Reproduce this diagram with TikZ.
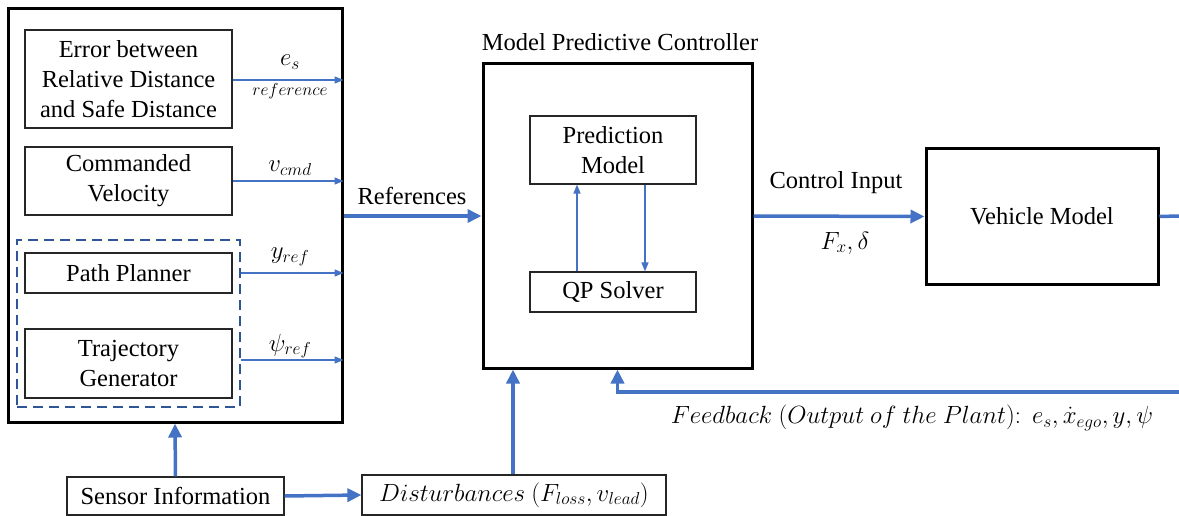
\documentclass[tikz,border=0pt]{standalone}
\usepackage{fontspec}
\setmainfont{Liberation Serif}
\usetikzlibrary{arrows.meta,calc}
\definecolor{linkblue}{HTML}{4472C4}
\definecolor{groupblue}{HTML}{2F5597}
\begin{document}
\begin{tikzpicture}[x=1pt,y=-1pt,
  every node/.style={font=\fontsize{24.5}{30}\selectfont, inner sep=0pt},
  block/.style={draw=black!85, line width=1.2pt, fill=white, align=center},
  bigblock/.style={draw=black, line width=3pt, align=center},
  group/.style={draw=groupblue, line width=2.6pt, dash pattern=on 10pt off 6pt},
  thinarrow/.style={draw=linkblue, line width=1.3pt, -{Triangle[length=9pt,width=7pt]}},
  thickarrow/.style={draw=linkblue, line width=3.5pt, -{Triangle[length=14pt,width=13pt]}},
  thickline/.style={draw=linkblue, line width=3.5pt},
  lbl/.style={font=\fontsize{24.5}{28}\selectfont},
  smalllbl/.style={font=\fontsize{18}{20}\selectfont}
]
\useasboundingbox (0,0) rectangle (1179,516);

% reference generation
\node[bigblock, minimum width=334pt, minimum height=413pt] (refs) at (175,215.5) {};
\node[block, minimum width=207pt, minimum height=98pt] (err) at (128.5,79)
  {Error between\\Relative Distance\\and Safe Distance};
\node[block, minimum width=207pt, minimum height=68pt] (cmd) at (128.5,181)
  {Commanded\\Velocity};
\node[group, minimum width=223pt, minimum height=167pt] (plan) at (128.5,323.5) {};
\node[block, minimum width=207pt, minimum height=40pt] (path) at (128.5,273) {Path Planner};
\node[block, minimum width=207pt, minimum height=69pt] (traj) at (128.5,363.5)
  {Trajectory\\Generator};

% controller
\node[bigblock, minimum width=269pt, minimum height=304pt] (mpc) at (617.5,216) {};
\node[lbl] (mpctitle) at (620,42) {Model Predictive Controller};
\node[block, minimum width=166pt, minimum height=68pt] (pred) at (613,150)
  {Prediction\\Model};
\node[block, minimum width=166pt, minimum height=40pt] (qp) at (613,292) {QP Solver};

% plant
\node[bigblock, minimum width=232pt, minimum height=135pt] (veh) at (1042,216.5)
  {Vehicle Model};

% inputs from below
\node[block, minimum width=217pt, minimum height=38pt] (sensor) at (175.5,496)
  {Sensor Information};
\node[block, minimum width=304pt, minimum height=40pt] (dist) at (514,495)
  {$Disturbances\ (F_{loss}, v_{lead})$};

\coordinate (vout) at (1179,216);
\coordinate (fbin) at (1179,392);

% signals inside the reference block
\draw[thinarrow] (err.east |- 0,80) -- (refs.east |- 0,80);
\node[lbl] (eslbl) at (290,62) {$e_s$};
\node[smalllbl] (reflbl) at (290,91) {$reference$};
\draw[thinarrow] (cmd.east) -- (refs.east |- cmd.east);
\node[lbl] (vlbl) at (290,168) {$v_{cmd}$};
\draw[thinarrow] (plan.east |- path.east) -- (refs.east |- path.east);
\node[lbl] (ylbl) at (290,257) {$y_{ref}$};
\draw[thinarrow] (plan.east |- 0,360) -- (refs.east |- 0,360);
\node[lbl] (psilbl) at (290,346) {$\psi_{ref}$};

% main signal path
\draw[thickarrow] (refs.east |- mpc.west) -- (mpc.west);
\node[lbl] (reflabel) at (412,196) {References};
\draw[thickarrow] (mpc.east) -- (veh.west);
\node[lbl] (cilbl) at (836,183) {Control Input};
\node[lbl] (fxlbl) at (845,243) {$F_x, \delta$};
\draw[thickline] (veh.east) -- (vout);

% controller internals
\draw[thinarrow] ([xshift=-36pt]qp.north) -- ([xshift=-36pt]pred.south);
\draw[thinarrow] ([xshift=32pt]pred.south) -- ([xshift=32pt]qp.north);

% feedback and disturbances
\draw[thickarrow] (fbin) -| (mpc.south);
\node[lbl] (fblbl) at (912,418)
  {$Feedback\ (Output\ of\ the\ Plant)\colon\; e_s, \dot{x}_{ego}, y, \psi$};
\draw[thickarrow] (dist.north -| 513,0) -- (mpc.south -| 513,0);
\draw[thickarrow] (sensor.north) -- (refs.south);
\draw[thickarrow] (sensor.east) -- (dist.west);
\end{tikzpicture}
\end{document}
